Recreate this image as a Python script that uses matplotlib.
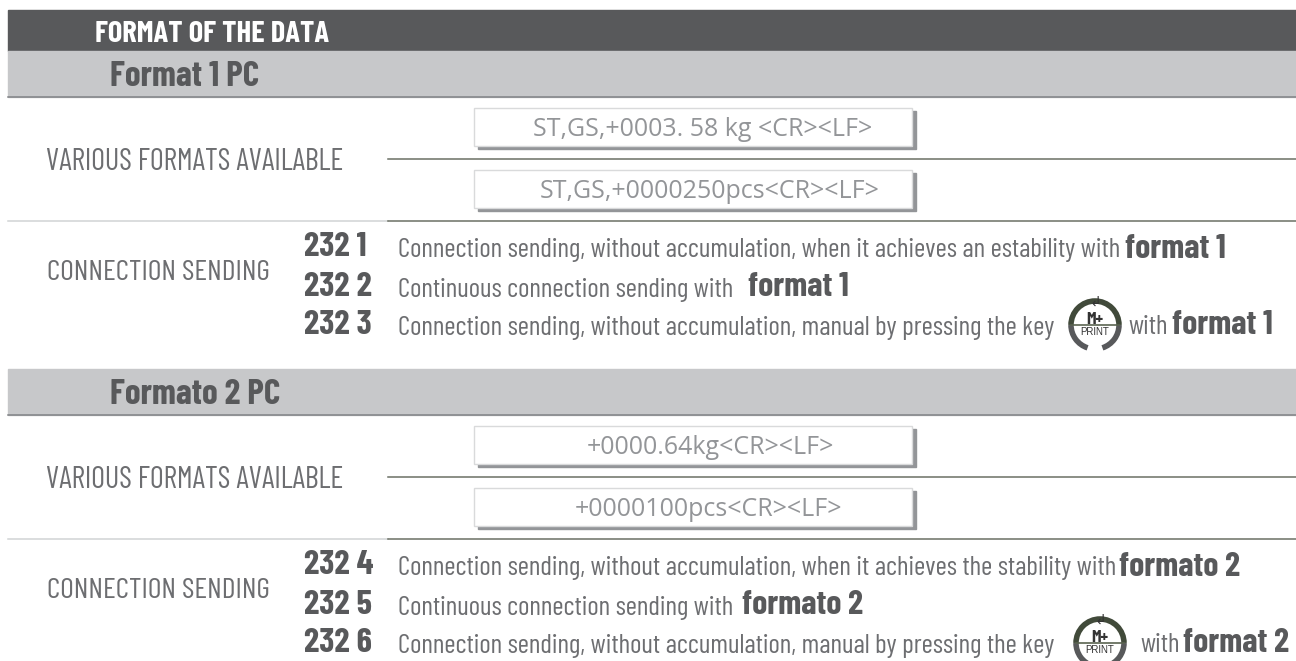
#!/usr/bin/env python3
"""Redraw the data format table from the scale manual."""

import matplotlib.pyplot as plt
from matplotlib.patches import Arc, Rectangle

NARROW = ["Barlow Condensed", "Roboto Condensed", "Liberation Sans", "DejaVu Sans"]
BOX_FONT = ["Open Sans", "DejaVu Sans"]
PLAIN = ["Liberation Sans", "DejaVu Sans"]

DARK = "#58595b"
BAND = "#c7c8ca"
TEXT = "#6d6e71"
BOX_TEXT = "#939598"
RULE = "#6b7065"

title = "FORMAT OF THE DATA"
section_names = ["Format 1 PC", "Formato 2 PC"]
left_labels = ["VARIOUS FORMATS AVAILABLE", "CONNECTION SENDING"]
boxes_1 = ["ST,GS,+0003. 58 kg <CR><LF>", "ST,GS,+0000250pcs<CR><LF>"]
boxes_2 = ["+0000.64kg<CR><LF>", "+0000100pcs<CR><LF>"]
codes_1 = ["232 1", "232 2", "232 3"]
codes_2 = ["232 4", "232 5", "232 6"]
desc_1 = [
    "Connection sending, without accumulation, when it achieves an estability with",
    "Continuous connection sending with",
    "Connection sending, without accumulation, manual by pressing the key",
]
desc_2 = [
    "Connection sending, without accumulation, when it achieves the stability with",
    "Continuous connection sending with",
    "Connection sending, without accumulation, manual by pressing the key",
]
bold_1 = ["format 1", "format 1", "format 1"]
bold_2 = ["formato 2", "formato 2", "format 2"]


def put(ax, x, y, s, size, color=TEXT, bold=False, ha="left", family=NARROW):
    # Barlow sits high when centred, so push it down a little
    dy = 3.5 if family is NARROW else 0
    return ax.text(x, y + dy, s, fontsize=size, color=color, ha=ha, va="center",
                   family=family, fontweight="bold" if bold else "normal", zorder=4)


def key_icon(ax, cx, cy, r=24):
    ax.add_patch(Arc((cx, cy), 2 * r, 2 * r, theta1=0, theta2=72, color=DARK, lw=4))
    ax.add_patch(Arc((cx, cy), 2 * r, 2 * r, theta1=108, theta2=180, color=DARK, lw=4))
    ax.add_patch(Arc((cx, cy), 2 * r, 2 * r, theta1=180, theta2=360, color="#414a3a", lw=4))
    ax.plot([cx - r, cx + r], [cy, cy], color="#5a6350", lw=1.2)
    put(ax, cx, cy - 9, "M+", 12.5, color="#333333", bold=True, ha="center")
    put(ax, cx, cy + 7, "PRINT", 7, color="#333333", ha="center", family=PLAIN)
    put(ax, cx, cy - 22, "\u21b2", 10, color="#333333", ha="center", family=["DejaVu Sans"])


def box(ax, top, s, text_x):
    ax.add_patch(Rectangle((478, top + 3), 438, 38, color="#939598", zorder=1))
    ax.add_patch(Rectangle((474, top), 438, 38, fc="white", ec="#d9dadb", lw=1, zorder=2))
    put(ax, text_x, top + 21, s, 18, color=BOX_TEXT, ha="center", family=BOX_FONT)


def section(ax, band_top, name, boxes, box_x, codes, descs, bolds, rows, bold_x, icon):
    ax.add_patch(Rectangle((8, band_top), 1288, 46, color=BAND))
    put(ax, 110, band_top + 23, name, 25.5, color=DARK, bold=True)
    ax.plot([8, 1296], [band_top + 46, band_top + 46], color="#808285", lw=1.1)

    mid = band_top + 108
    low = band_top + 170
    put(ax, 46, mid, left_labels[0], 21.7)
    box(ax, band_top + 57, boxes[0], box_x[0])
    ax.plot([388, 1296], [mid, mid], color=RULE, lw=1.1)
    box(ax, band_top + 119, boxes[1], box_x[1])

    ax.plot([8, 388], [low, low], color="#d1d3d4", lw=1.1)
    ax.plot([388, 1296], [low, low], color=RULE, lw=1.1)

    put(ax, 47, rows[0] + 25, left_labels[1], 21.4)
    for y, code, desc, bold_text, x in zip(rows, codes, descs, bolds, bold_x):
        put(ax, 304, y, code, 25, color=DARK, bold=True)
        put(ax, 398, y + 3, desc, 19.6)
        put(ax, x, y + 1, bold_text, 24.5, color=DARK, bold=True)
    key_icon(ax, icon[0], rows[2] + 4)
    put(ax, icon[1], rows[2] + 3, "with", 19.6)


fig = plt.figure(figsize=(12.96, 6.61), dpi=100)
ax = fig.add_axes([0, 0, 1, 1])
ax.set_xlim(0, 1296)
ax.set_ylim(661, 0)
ax.axis("off")

ax.add_patch(Rectangle((8, 10), 1288, 41, color=DARK))
put(ax, 95, 31, title, 22, color="white", bold=True)

section(ax, 51, section_names[0], boxes_1, (703, 710), codes_1, desc_1, bold_1,
        (244, 283, 321), (1125, 748, 1172), (1095, 1128))
section(ax, 369, section_names[1], boxes_2, (710, 708), codes_2, desc_2, bold_2,
        (562, 601, 639), (1119, 742, 1183), (1100, 1140))

fig.savefig("out.png", dpi=100)
